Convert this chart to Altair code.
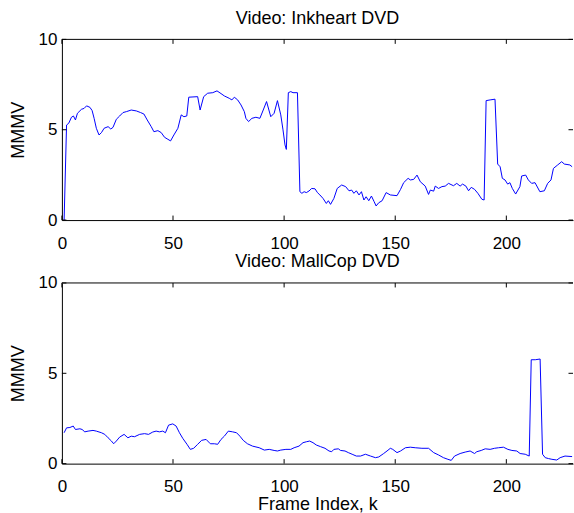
import altair as alt
import pandas as pd

# ---- data ----
ink_k = [1, 2.1, 3.1, 4.3, 5.2, 6.1, 7.0, 8.8, 10.0, 11.1, 12.6, 13.6, 14.5, 15.5, 16.7, 17.8,
         19.0, 20.8, 22.0, 23.0, 24.5, 26.0, 27.5, 29.0, 31.2, 33.5, 35.4, 36.9, 38.4, 40.2,
         41.4, 43.2, 44.7, 46.2, 47.7, 48.9, 50.4, 52.2, 53.7, 54.9, 56.2, 57.1, 61.1, 62.2,
         63.8, 65.6, 67.9, 69.8, 71.6, 73.1, 75.3, 76.5, 77.6, 79.1, 80.6, 82.1, 82.8, 84.0,
         85.5, 87.3, 89.1, 90.6, 92.1, 94.0, 95.5, 97.0, 98.5, 99.5, 100.4, 101.0, 101.9,
         103.0, 104.0, 106.0, 107.1, 108.0, 109.0, 110.0, 111.2, 112.4, 113.9, 115.0, 116.1,
         117.5, 119.0, 119.9, 120.9, 122.4, 123.9, 125.9, 127.7, 129.2, 130.4, 131.4, 132.5,
         133.7, 134.8, 135.9, 136.9, 138.1, 139.3, 140.5, 141.4, 142.6, 144.1, 145.9, 147.8,
         150.8, 152.4, 153.8, 155.8, 156.8, 158.3, 159.8, 161.3, 163.5, 165.0, 165.8, 167.3,
         168.0, 169.5, 171.0, 172.5, 174.0, 176.2, 177.7, 179.2, 180.3, 181.8, 183.0, 184.2,
         185.7, 187.2, 189.0, 190.0, 190.9, 192.7, 194.9, 196.1, 197.2, 198.2, 199.4, 200.6,
         201.6, 202.7, 204.2, 206.1, 206.9, 208.7, 209.9, 211.4, 212.9, 215.1, 217.1, 218.6,
         220.1, 221.2, 223.1, 224.9, 226.1, 228.6, 229.6]
ink_v = [0, 5.26, 5.36, 5.69, 5.76, 5.54, 5.91, 6.13, 6.18, 6.32, 6.24, 6.06, 5.63, 5.08, 4.71,
         4.84, 5.08, 5.17, 5.04, 5.13, 5.58, 5.76, 5.95, 6.0, 6.09, 6.04, 5.95, 5.87, 5.54, 5.17,
         4.89, 4.95, 4.84, 4.58, 4.47, 4.38, 4.71, 5.08, 5.82, 5.72, 5.76, 6.80, 6.83, 6.09,
         6.83, 7.02, 7.05, 7.15, 7.0, 6.87, 6.74, 6.65, 6.80, 6.65, 6.37, 6.0, 5.63, 5.45,
         5.63, 5.69, 5.63, 6.09, 6.56, 5.72, 5.91, 6.61, 5.82, 4.99, 4.16, 3.91, 7.05,
         7.11, 7.05, 7.05, 1.57, 1.48, 1.57, 1.52, 1.61, 1.75, 1.73, 1.52, 1.39,
         1.20, 0.92, 1.07, 0.87, 1.20, 1.75, 1.94, 1.85, 1.62, 1.66, 1.48, 1.62,
         1.39, 1.57, 1.11, 1.29, 1.07, 1.33, 1.02, 0.78, 0.96, 1.07, 1.52, 1.39,
         1.35, 1.70, 2.07, 2.31, 2.22, 2.25, 2.49, 2.12, 1.88, 1.42, 1.66, 1.60,
         1.88, 1.75, 1.85, 1.88, 2.03, 1.90, 2.03, 1.88, 1.99, 1.88, 1.62, 1.81,
         1.70, 1.48, 1.15, 1.11, 6.61, 6.65, 6.69, 3.10, 2.95, 2.31, 2.22, 1.99,
         2.07, 1.75, 1.44, 1.85, 2.44, 2.49, 2.22, 2.03, 2.07, 1.57, 1.62, 2.03,
         2.22, 2.86, 3.05, 3.23, 3.10, 3.05, 2.95]

mall_k = [1, 2.1, 3.6, 5.1, 6.1, 8.1, 9.1, 10.3, 11.8, 14.0, 15.5, 17.8, 19.3, 20.8, 22.3, 23.3,
          24.5, 26.0, 28.0, 29.7, 31.2, 32.7, 35.0, 37.2, 39.0, 40.9, 42.4, 43.9, 45.4, 46.6,
          48.0, 49.9, 51.4, 52.9, 54.4, 56.3, 57.8, 59.3, 61.1, 62.9, 64.9, 66.8, 68.6, 70.1,
          71.6, 73.1, 74.9, 76.8, 78.6, 80.1, 81.6, 83.5, 85.8, 88.8, 91.1, 93.3, 95.5, 97.0,
          98.5, 100.8, 103.0, 104.5, 106.7, 108.5, 110.0, 111.5, 113.0, 114.5, 116.4, 118.4,
          120.2, 121.4, 122.4, 124.4, 125.4, 127.4, 128.9, 130.6, 132.5, 134.4, 136.6, 138.9,
          141.1, 142.6, 144.8, 146.3, 147.8, 148.9, 150.8, 152.4, 154.6, 156.8, 159.0, 162.0,
          165.0, 167.3, 169.5, 171.7, 173.7, 175.2, 176.7, 179.2, 181.5, 183.7, 185.7, 186.7,
          188.7, 190.5, 192.7, 194.7, 196.5, 198.7, 200.7, 202.5, 204.7, 206.2, 208.5, 210.3,
          211.2, 213.0, 215.2, 216.3, 217.5, 219.0, 220.5, 222.7, 224.2, 226.4, 229.6]
mall_v = [1.71, 1.98, 2.0, 2.08, 1.89, 1.93, 1.89, 1.76, 1.80, 1.84, 1.80, 1.71, 1.62, 1.43, 1.25,
          1.10, 1.25, 1.47, 1.62, 1.43, 1.52, 1.49, 1.62, 1.66, 1.62, 1.75, 1.80, 1.76, 1.80,
          1.71, 2.13, 2.20, 2.08, 1.71, 1.40, 1.07, 0.79, 0.85, 1.07, 1.29, 1.34, 1.10, 1.10,
          1.07, 1.34, 1.52, 1.80, 1.76, 1.71, 1.52, 1.29, 1.10, 0.97, 0.88, 0.75, 0.79, 0.73,
          0.70, 0.75, 0.79, 0.79, 0.88, 0.97, 1.16, 1.21, 1.25, 1.16, 1.03, 0.94, 0.85,
          0.70, 0.66, 0.79, 0.82, 0.73, 0.70, 0.61, 0.52, 0.42, 0.42, 0.52, 0.42,
          0.33, 0.37, 0.56, 0.70, 0.85, 0.79, 0.61, 0.70, 0.88, 0.91, 0.88, 0.85,
          0.85, 0.61, 0.48, 0.33, 0.24, 0.18, 0.42, 0.56, 0.64, 0.70, 0.56, 0.66,
          0.73, 0.82, 0.79, 0.85, 0.88, 0.91, 0.79, 0.73, 0.70, 0.56, 0.52, 0.42,
          5.75, 5.75, 5.79, 0.52, 0.33, 0.28, 0.24, 0.20, 0.33, 0.42, 0.39]

x_ticks = [0, 50, 100, 150, 200]
y_ticks = [0, 5, 10]
titles = ["Video: Inkheart DVD", "Video: MallCop DVD"]
x_label = "Frame Index, k"
y_label = "MMMV"

W, H = 512, 181
FONT = "Liberation Sans"
TL = 4.5  # inward tick length in px
BLUE = "#0000ff"


def panel(k, v, title, xtitle):
    df = pd.DataFrame({"k": k, "v": v})
    xs = alt.Scale(domain=[0, 230], nice=False, zero=False)
    ys = alt.Scale(domain=[0, 10], nice=False, zero=False)
    xax = alt.Axis(values=x_ticks, ticks=False, tickSize=0, grid=False, domain=True,
                   labelPadding=15, labelFontSize=17, labelFlush=False,
                   title=xtitle if xtitle else "",
                   titlePadding=1, titleFontSize=18, format="d")
    yax = alt.Axis(values=y_ticks, ticks=False, tickSize=0, grid=False, domain=True,
                   labelPadding=5, labelFontSize=17, labelFlush=False,
                   title=y_label, titlePadding=11, titleFontSize=18, format="d")
    line = alt.Chart(df).mark_line(color=BLUE, strokeWidth=1, clip=True).encode(
        x=alt.X("k:Q", scale=xs, axis=xax),
        y=alt.Y("v:Q", scale=ys, axis=yax),
    )
    xt = pd.DataFrame({"k": x_ticks})
    yt = pd.DataFrame({"v": y_ticks})
    one = pd.DataFrame({"a": [0]})
    bt = alt.Chart(xt).mark_rule(color="black", strokeWidth=1).encode(
        x=alt.X("k:Q", scale=xs, axis=xax), y=alt.value(H), y2=alt.value(H - TL))
    tt = alt.Chart(xt).mark_rule(color="black", strokeWidth=1).encode(
        x=alt.X("k:Q", scale=xs, axis=xax), y=alt.value(0), y2=alt.value(TL))
    lt = alt.Chart(yt).mark_rule(color="black", strokeWidth=1).encode(
        y=alt.Y("v:Q", scale=ys, axis=yax), x=alt.value(0), x2=alt.value(TL))
    rt = alt.Chart(yt).mark_rule(color="black", strokeWidth=1).encode(
        y=alt.Y("v:Q", scale=ys, axis=yax), x=alt.value(W - TL), x2=alt.value(W))
    top = alt.Chart(one).mark_rule(color="black", strokeWidth=1).encode(
        x=alt.value(0), x2=alt.value(W), y=alt.value(0))
    return alt.layer(line, bt, tt, lt, rt, top).properties(
        width=W, height=H,
        title=alt.TitleParams(title, fontSize=18, font=FONT, fontWeight="normal",
                              color="black", baseline="alphabetic", offset=-11.5),
    )


chart = alt.vconcat(
    panel(ink_k, ink_v, titles[0], None),
    panel(mall_k, mall_v, titles[1], x_label),
    spacing=2,
).properties(
    padding={"left": 9, "top": 9, "right": 0, "bottom": 0},
    background="white",
).configure_view(stroke=None).configure_axis(
    labelFont=FONT, titleFont=FONT, labelColor="black", titleColor="black",
    domainColor="black", domainWidth=1, titleFontWeight="normal",
)

chart.save("out.html", embed_options={"renderer": "svg", "actions": False})
